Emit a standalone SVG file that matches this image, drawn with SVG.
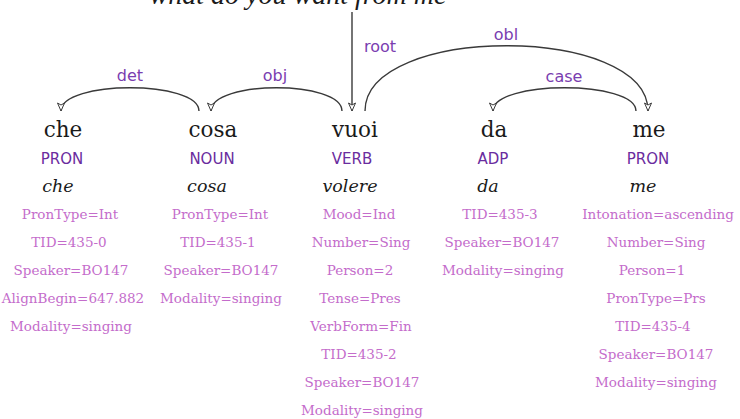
<svg xmlns="http://www.w3.org/2000/svg" width="740" height="419" viewBox="0 0 740 419">
  <defs>
    <style>
      .word { font-family: "DejaVu Serif", serif; font-size: 21.5px; fill: #1a1a1a; text-anchor: middle; }
      .pos { font-family: "DejaVu Sans", sans-serif; font-size: 15px; fill: #6a2c9e; text-anchor: middle; }
      .lemma { font-family: "DejaVu Serif", serif; font-style: italic; font-size: 17.5px; fill: #1a1a1a; text-anchor: middle; }
      .feat { font-family: "DejaVu Serif", serif; font-size: 13.5px; fill: #c46ccb; text-anchor: middle; }
      .deprel { font-family: "DejaVu Sans", sans-serif; font-size: 16px; fill: #7a3db0; text-anchor: middle; }
      .arc { fill: none; stroke: #3a3a3a; stroke-width: 1.4; }
      .gloss { font-family: "Liberation Serif", serif; font-style: italic; font-size: 28px; fill: #1a1a1a; text-anchor: middle; }
    </style>
    <marker id="head" viewBox="-10 -5 12 10" refX="0" refY="0" markerWidth="12" markerHeight="10" markerUnits="userSpaceOnUse" orient="auto">
      <path d="M-8,-3.5 L0,0 L-8,3.5 L-6,0 Z" fill="#ffffff" stroke="#3a3a3a" stroke-width="1"/>
    </marker>
  </defs>
  <rect width="740" height="419" fill="#ffffff"/>

  <!-- free translation, partly above the canvas -->
  <text class="gloss" x="298" y="4">what do you want from me</text>

  <!-- dependency arcs -->
  <g id="arcs">
    <path class="arc" d="M199,111 C199,80 61,80 61,111" marker-end="url(#head)"/>
    <path class="arc" d="M342,111 C342,80 211,80 211,111" marker-end="url(#head)"/>
    <path class="arc" d="M352,12 L352,111" marker-end="url(#head)"/>
    <path class="arc" d="M365,111 C365,24 648,24 648,111" marker-end="url(#head)"/>
    <path class="arc" d="M636,111 C636,80 493,80 493,111" marker-end="url(#head)"/>
    <text class="deprel" x="130" y="81">det</text>
    <text class="deprel" x="275" y="81">obj</text>
    <text class="deprel" x="380" y="52">root</text>
    <text class="deprel" x="506" y="40">obl</text>
    <text class="deprel" x="564" y="82">case</text>
  </g>

  <g id="tok-che">
    <text class="word" x="63" y="137">che</text>
    <text class="pos" x="62" y="164">PRON</text>
    <text class="lemma" x="58" y="192">che</text>
    <text class="feat" x="70" y="219">PronType=Int</text>
    <text class="feat" x="69" y="247">TID=435-0</text>
    <text class="feat" x="71" y="275">Speaker=BO147</text>
    <text class="feat" x="73" y="303">AlignBegin=647.882</text>
    <text class="feat" x="71" y="331">Modality=singing</text>
  </g>

  <g id="tok-cosa">
    <text class="word" x="213" y="137">cosa</text>
    <text class="pos" x="212" y="164">NOUN</text>
    <text class="lemma" x="207" y="192">cosa</text>
    <text class="feat" x="220" y="219">PronType=Int</text>
    <text class="feat" x="218" y="247">TID=435-1</text>
    <text class="feat" x="221" y="275">Speaker=BO147</text>
    <text class="feat" x="221" y="303">Modality=singing</text>
  </g>

  <g id="tok-vuoi">
    <text class="word" x="355" y="137">vuoi</text>
    <text class="pos" x="352" y="164">VERB</text>
    <text class="lemma" x="350" y="192">volere</text>
    <text class="feat" x="359" y="219">Mood=Ind</text>
    <text class="feat" x="361" y="247">Number=Sing</text>
    <text class="feat" x="360" y="275">Person=2</text>
    <text class="feat" x="360" y="303">Tense=Pres</text>
    <text class="feat" x="361" y="331">VerbForm=Fin</text>
    <text class="feat" x="359" y="359">TID=435-2</text>
    <text class="feat" x="362" y="387">Speaker=BO147</text>
    <text class="feat" x="362" y="415">Modality=singing</text>
  </g>

  <g id="tok-da">
    <text class="word" x="494" y="137">da</text>
    <text class="pos" x="493" y="164">ADP</text>
    <text class="lemma" x="488" y="192">da</text>
    <text class="feat" x="500" y="219">TID=435-3</text>
    <text class="feat" x="502" y="247">Speaker=BO147</text>
    <text class="feat" x="503" y="275">Modality=singing</text>
  </g>

  <g id="tok-me">
    <text class="word" x="649" y="137">me</text>
    <text class="pos" x="648" y="164">PRON</text>
    <text class="lemma" x="643" y="192">me</text>
    <text class="feat" x="658" y="219">Intonation=ascending</text>
    <text class="feat" x="656" y="247">Number=Sing</text>
    <text class="feat" x="652" y="275">Person=1</text>
    <text class="feat" x="656" y="303">PronType=Prs</text>
    <text class="feat" x="653" y="331">TID=435-4</text>
    <text class="feat" x="656" y="359">Speaker=BO147</text>
    <text class="feat" x="656" y="387">Modality=singing</text>
  </g>
</svg>
